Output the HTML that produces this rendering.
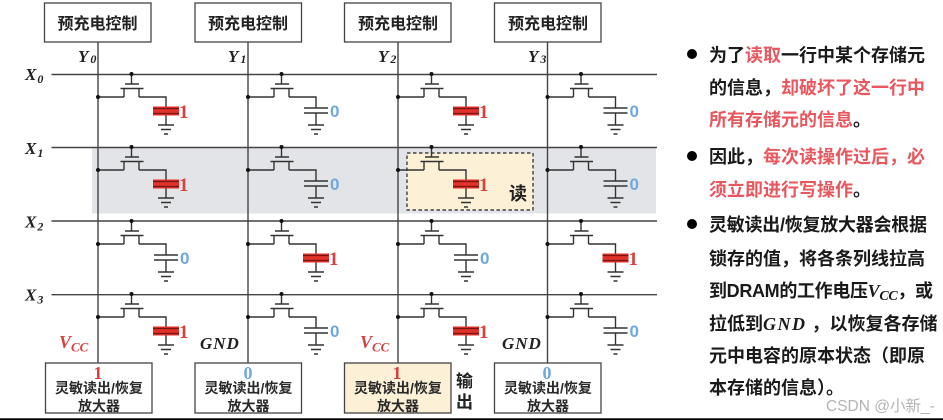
<!DOCTYPE html>
<html><head><meta charset="utf-8"><style>
html,body{margin:0;padding:0;background:#fff;width:943px;height:420px;overflow:hidden}
svg{display:block;filter:blur(.35px)}
.cjk{font-family:"Liberation Sans","Noto Sans CJK SC",sans-serif;font-weight:700}
.m{font-family:"Liberation Serif",serif;font-style:italic;font-weight:700;fill:#222}
.r{fill:#e9575e}
</style></head><body>
<svg width="943" height="420" viewBox="0 0 943 420" xmlns="http://www.w3.org/2000/svg">
<defs>
<g id="t" fill="none" stroke="#333" stroke-width="1.400">
<path d="M33.5 0V10M27 10H41M22.500 14.500H45.500M26 14.500V23M41 14.500V23M0 23H26M41 23H68V34"/>
<circle cx="33.500" cy="0" r="2" fill="#111" stroke="none"/>
<circle cx="0" cy="23" r="2" fill="#111" stroke="none"/>
<path d="M68 39V51M60 51H76M63 55.500H73M66 60H70"/>
</g>
<g id="c1"><use href="#t"/>
<path d="M68 34V40" stroke="#333" stroke-width="1.400"/>
<rect x="55" y="32.500" width="26" height="9" fill="#e0312b"/>
<path d="M55 34.500H81M55 39.500H81" stroke="#7a1512" stroke-width="1.300"/>
<text x="81" y="44" font-family="Liberation Serif,serif" font-weight="700" font-size="19" fill="#d9403d">1</text></g>
<g id="c0"><use href="#t"/>
<path d="M56 34H80M56 39H80" stroke="#333" stroke-width="1.600" fill="none"/>
<text x="82" y="43" font-family="Liberation Sans,sans-serif" font-weight="700" font-size="17" fill="#70a8dd">0</text></g>
</defs>

<rect x="92" y="148" width="564" height="65.500" fill="#e3e4e8"/>
<rect x="407" y="153" width="126" height="57" fill="#fcf0d6" stroke="#222" stroke-width="1.200" stroke-dasharray="3.500 2.500"/>

<g stroke="#444" stroke-width="1.400" fill="none">
<path d="M51.500 74.500H657M51.500 147.500H657M51.500 221H657M51.500 294.700H657"/>
<path d="M98 42V363M248 42V363M398 42V363M547.500 42V363"/>
</g>

<use href="#c1" x="98" y="74"/><use href="#c0" x="248" y="74"/><use href="#c1" x="398" y="74"/><use href="#c0" x="547.500" y="74"/>
<use href="#c1" x="98" y="147"/><use href="#c0" x="248" y="147"/><use href="#c1" x="398" y="147"/><use href="#c0" x="547.500" y="147"/>
<use href="#c0" x="98" y="221"/><use href="#c1" x="248" y="221"/><use href="#c0" x="398" y="221"/><use href="#c1" x="547.500" y="221"/>
<use href="#c1" x="98" y="294"/><use href="#c0" x="248" y="294"/><use href="#c1" x="398" y="294"/><use href="#c0" x="547.500" y="294"/>

<g fill="#fff" stroke="#444" stroke-width="1.300">
<rect x="44.500" y="3" width="106.500" height="39"/>
<rect x="195" y="3" width="106.500" height="39"/>
<rect x="344.500" y="3" width="106.500" height="39"/>
<rect x="494.500" y="3" width="106.500" height="39"/>
<rect x="45.500" y="363" width="106.500" height="50"/>
<rect x="195" y="363" width="106.500" height="50"/>
<rect x="344.500" y="363" width="106.500" height="50" fill="#fcf0d6"/>
<rect x="494.500" y="363" width="106.500" height="50"/>
</g>

<g class="cjk" font-size="16" fill="#222" text-anchor="middle">
<text x="97.500" y="29">预充电控制</text>
<text x="248" y="29">预充电控制</text>
<text x="398" y="29">预充电控制</text>
<text x="548" y="29">预充电控制</text>
</g>

<g class="cjk" font-size="14" fill="#2a2a2a" text-anchor="middle">
<text x="99" y="393">灵敏读出/恢复</text><text x="99" y="411">放大器</text>
<text x="248.500" y="393">灵敏读出/恢复</text><text x="248.500" y="411">放大器</text>
<text x="398" y="393">灵敏读出/恢复</text><text x="398" y="411">放大器</text>
<text x="548" y="393">灵敏读出/恢复</text><text x="548" y="411">放大器</text>
</g>
<g font-family="Liberation Serif,serif" font-weight="700" font-size="18" text-anchor="middle">
<text x="98" y="379" fill="#d9403d">1</text>
<text x="248" y="379" fill="#70a8dd">0</text>
<text x="397" y="379" fill="#d9403d">1</text>
<text x="547" y="379" fill="#70a8dd">0</text>
</g>

<text x="509" y="200" class="cjk" font-size="18" fill="#222">读</text>
<text x="456" y="387" class="cjk" font-size="17" fill="#222">输</text>
<text x="456" y="408" class="cjk" font-size="17" fill="#222">出</text>

<g class="m" font-size="17">
<text x="78" y="62">Y<tspan font-size="12" dx="2" dy="1">0</tspan></text>
<text x="228" y="62">Y<tspan font-size="12" dx="2" dy="1">1</tspan></text>
<text x="378" y="62">Y<tspan font-size="12" dx="2" dy="1">2</tspan></text>
<text x="528" y="62">Y<tspan font-size="12" dx="2" dy="1">3</tspan></text>
<text x="25" y="80">X<tspan font-size="12" dx="1" dy="3">0</tspan></text>
<text x="25" y="154">X<tspan font-size="12" dx="1" dy="3">1</tspan></text>
<text x="25" y="227.500">X<tspan font-size="12" dx="1" dy="3">2</tspan></text>
<text x="25" y="300.500">X<tspan font-size="12" dx="1" dy="3">3</tspan></text>
<text x="200" y="349" font-size="17" letter-spacing="1">GND</text>
<text x="502" y="349" font-size="17" letter-spacing="1">GND</text>
</g>
<g class="m">
<text x="59" y="348" font-size="18" style="fill:#d9403d">V<tspan font-size="13" dy="3.500">CC</tspan></text>
<text x="360" y="348" font-size="18" style="fill:#d9403d">V<tspan font-size="13" dy="3.500">CC</tspan></text>
</g>

<circle cx="692" cy="54" r="5" fill="#000"/>
<circle cx="692" cy="156" r="5" fill="#000"/>
<circle cx="692" cy="224" r="5" fill="#000"/>

<g class="cjk" font-size="18" fill="#1a1a1a">
<text x="709" y="61.500">为了<tspan class="r">读取</tspan>一行中某个存储元</text>
<text x="709" y="94">的信息，<tspan class="r">却破坏了这一行中</tspan></text>
<text x="709" y="126"><tspan class="r">所有存储元的信息</tspan>。</text>
<text x="709" y="163">因此，<tspan class="r">每次读操作过后，必</tspan></text>
<text x="709" y="196"><tspan class="r">须立即进行写操作</tspan>。</text>
<text x="709" y="231" textLength="218">灵敏读出/恢复放大器会根据</text>
<text x="709" y="265">锁存的值，将各条列线拉高</text>
<text x="709" y="297" textLength="224">到DRAM的工作电压<tspan font-family="Liberation Serif,serif" font-style="italic">V</tspan><tspan font-family="Liberation Serif,serif" font-style="italic" font-size="14" dy="3">CC</tspan><tspan dy="-3">，或</tspan></text>
<text x="709" y="330">拉低到<tspan font-family="Liberation Serif,serif" font-style="italic" letter-spacing="1.500">GND</tspan> ，以恢复各存储</text>
<text x="709" y="362">元中电容的原本状态（即原</text>
<text x="709" y="394">本存储的信息）。</text>
</g>

<text x="826" y="411" font-family="Liberation Sans,'Noto Sans CJK SC',sans-serif" font-size="15.500" fill="#b4b4b4">CSDN @小新_-</text>
<rect x="0" y="418.300" width="943" height="1.700" fill="#000"/>
</svg>
</body></html>
